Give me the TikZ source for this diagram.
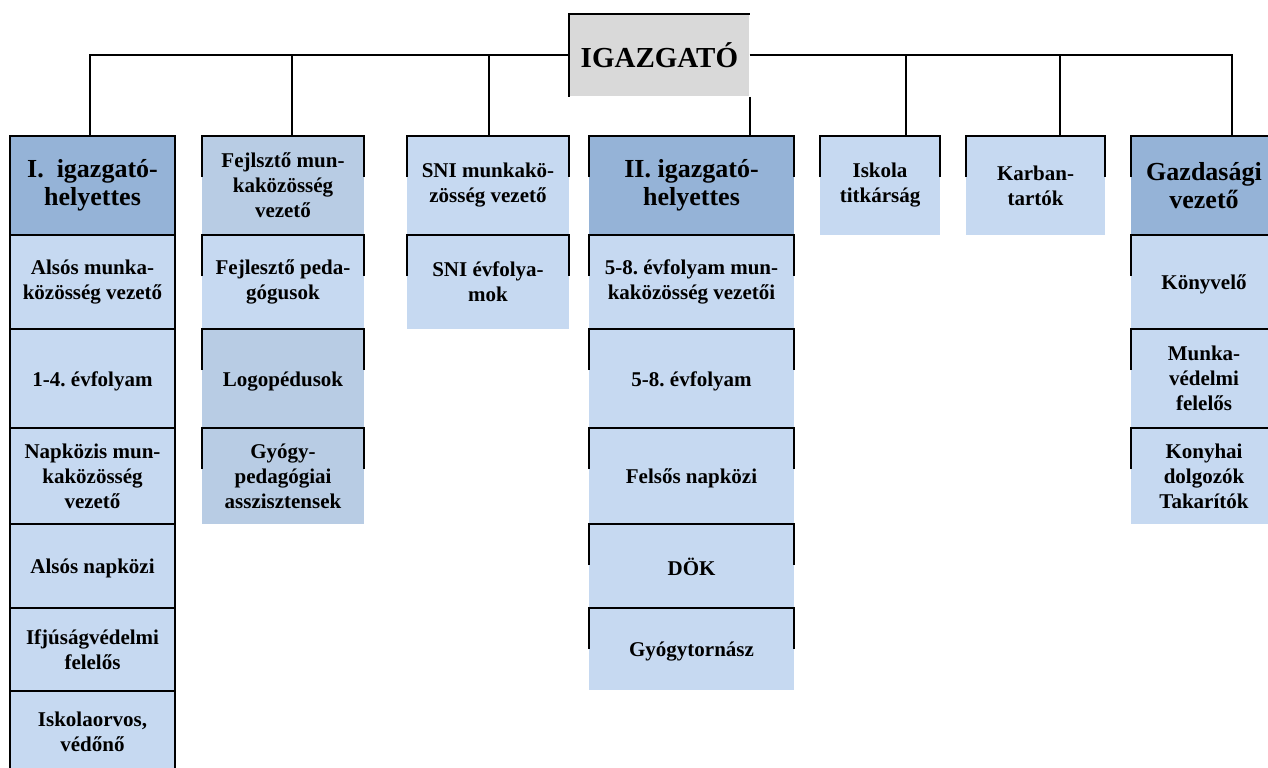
\documentclass[tikz,border=0pt]{standalone}
\usepackage{fontspec}
\setmainfont{Liberation Serif}
\usetikzlibrary{calc}
\frenchspacing
\definecolor{headblue}{HTML}{95B3D7}
\definecolor{cellblue}{HTML}{C6D9F1}
\definecolor{midblue}{HTML}{B8CCE4}
\definecolor{bossgray}{HTML}{D9D9D9}
\tikzset{
    cell/.style={anchor=north west, align=center, inner sep=1pt, outer sep=0pt, fill=cellblue,
        font=\fontsize{10.5}{12.5}\selectfont\bfseries,
        execute at begin node={\rule{0pt}{10pt}}}, % ordinary box
    head/.style={cell, fill=headblue, font=\fontsize{13}{14}\selectfont\bfseries,
        execute at begin node={\rule{0pt}{12.5pt}}}, % deputy header
    framed/.style={draw, line width=1pt}, % fully framed box (first column)
    bracket/.style={line width=1pt}, % top edge with short side ticks
    conn/.style={line width=1pt} % tree connectors
}

\begin{document}
\begin{tikzpicture}[x=0.5pt, y=-0.5pt]
    \useasboundingbox (0,0) rectangle (1268,767);
    \clip (0,0) rectangle (1268,767);

    \node[anchor=north west, fill=bossgray, minimum width=90pt, minimum height=41pt, inner sep=1pt,
          font=\fontsize{14.5}{16}\selectfont\bfseries] (boss) at (569,14) {IGAZGATÓ};

    % first column
    \node[head, framed, minimum width=82.5pt, minimum height=49.5pt] (h1) at (10,136) {I.\enspace igazgató-\\helyettes};
    \node[cell, framed, minimum width=82.5pt, minimum height=47pt] (a1) at (10,235) {Alsós munka-\\közösség vezető};
    \node[cell, framed, minimum width=82.5pt, minimum height=49.5pt] (a2) at (10,329) {1-4. évfolyam};
    \node[cell, framed, minimum width=82.5pt, minimum height=48pt] (a3) at (10,428) {Napközis mun-\\kaközösség\\vezető};
    \node[cell, framed, minimum width=82.5pt, minimum height=42pt] (a4) at (10,524) {Alsós napközi};
    \node[cell, framed, minimum width=82.5pt, minimum height=41.5pt] (a5) at (10,608) {Ifjúságvédelmi\\felelős};
    \node[cell, framed, minimum width=82.5pt, minimum height=40.5pt] (a6) at (10,691) {Iskolaorvos,\\védőnő};

    % second column
    \node[cell, fill=midblue, minimum width=81pt, minimum height=49.5pt] (h2) at (202,136) {Fejlsztő mun-\\kaközösség\\vezető};
    \node[cell, minimum width=81pt, minimum height=47pt] (b1) at (202,235) {Fejlesztő peda-\\gógusok};
    \node[cell, fill=midblue, minimum width=81pt, minimum height=49.5pt] (b2) at (202,329) {Logopédusok};
    \node[cell, fill=midblue, minimum width=81pt, minimum height=48pt] (b3) at (202,428) {Gyógy-\\pedagógiai\\asszisztensek};

    % third column
    \node[cell, minimum width=81pt, minimum height=49.5pt] (h3) at (407,136) {SNI munkakö-\\zösség vezető};
    \node[cell, minimum width=81pt, minimum height=47pt] (c1) at (407,235) {SNI évfolya-\\mok};

    % fourth column
    \node[head, minimum width=102.5pt, minimum height=49.5pt] (h4) at (589,136) {II. igazgató-\\helyettes};
    \node[cell, minimum width=102.5pt, minimum height=47pt] (d1) at (589,235) {5-8. évfolyam mun-\\kaközösség vezetői};
    \node[cell, minimum width=102.5pt, minimum height=49.5pt] (d2) at (589,329) {5-8. évfolyam};
    \node[cell, minimum width=102.5pt, minimum height=48pt] (d3) at (589,428) {Felsős napközi};
    \node[cell, minimum width=102.5pt, minimum height=42pt] (d4) at (589,524) {DÖK};
    \node[cell, minimum width=102.5pt, minimum height=41pt] (d5) at (589,608) {Gyógytornász};

    % single boxes
    \node[cell, minimum width=60pt, minimum height=49.5pt] (h5) at (820,136) {Iskola\\titkárság};
    \node[cell, minimum width=69.5pt, minimum height=49.5pt] (h6) at (966,136) {Karban-\\tartók};

    % last column
    \node[head, minimum width=73pt, minimum height=49.5pt] (h7) at (1131,136) {Gazdasági\\vezető};
    \node[cell, minimum width=73pt, minimum height=47pt] (g1) at (1131,235) {Könyvelő};
    \node[cell, minimum width=73pt, minimum height=49.5pt] (g2) at (1131,329) {Munka-\\védelmi\\felelős};
    \node[cell, minimum width=73pt, minimum height=48pt] (g3) at (1131,428) {Konyhai\\dolgozók\\Takarítók};

    % box edges
    \draw[bracket] (boss.south west) |- (boss.north east);
    \foreach \n in {h2,b1,b2,b3,h3,c1,h4,d1,d2,d3,d4,d5,h5,h6,h7,g1,g2,g3}
        \draw[bracket] ([yshift=-20.5pt]\n.north west) |- (\n.north east) -- ++(0,41);

    % connectors
    \draw[conn] (boss.west) -| ($(h1.north west)+(80,0)$);
    \draw[conn] (boss.west) -| ($(h2.north west)+(90,0)$);
    \draw[conn] (boss.west) -| ($(h3.north west)+(82,0)$);
    \draw[conn] (boss.south east) -- (boss.south east |- h4.north);
    \draw[conn] (boss.east) -| ($(h5.north west)+(86,0)$);
    \draw[conn] (boss.east) -| ($(h6.north west)+(94,0)$);
    \draw[conn] (boss.east) -| ($(h7.north west)+(101,0)$);
\end{tikzpicture}
\end{document}
